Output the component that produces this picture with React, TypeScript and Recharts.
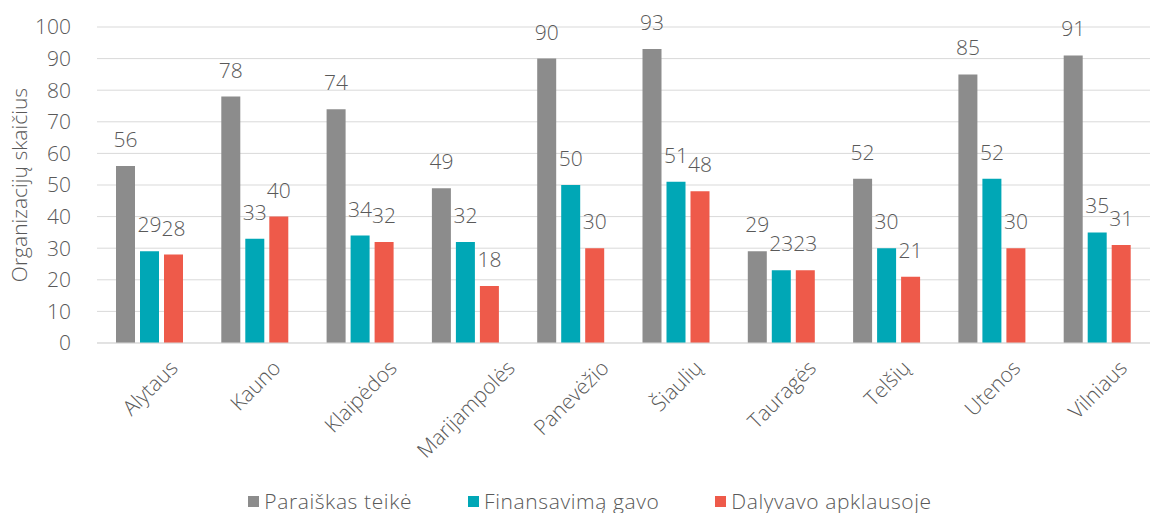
import React from 'react';
import { BarChart, Bar, XAxis, YAxis, CartesianGrid, Legend, LabelList } from 'recharts';

const regions = ['Alytaus', 'Kauno', 'Klaipėdos', 'Marijampolės', 'Panevėžio', 'Šiaulių', 'Tauragės', 'Telšių', 'Utenos', 'Vilniaus'];
const applied = [56, 78, 74, 49, 90, 93, 29, 52, 85, 91];
const funded = [29, 33, 34, 32, 50, 51, 23, 30, 52, 35];
const surveyed = [28, 40, 32, 18, 30, 48, 23, 21, 30, 31];
const yTicks = [0, 10, 20, 30, 40, 50, 60, 70, 80, 90, 100];

const SERIES = [
  { key: 'applied', name: 'Paraiškas teikė', color: '#8c8c8c' },
  { key: 'funded', name: 'Finansavimą gavo', color: '#00a7b6' },
  { key: 'surveyed', name: 'Dalyvavo apklausoje', color: '#ee5a4a' },
];

const data = regions.map((region, i) => ({
  region,
  applied: applied[i],
  funded: funded[i],
  surveyed: surveyed[i],
}));

const FONT = '"Open Sans", sans-serif';
const WEIGHT = 300;
const SIZE = 21;
const TEXT = '#595959';

let ctx: CanvasRenderingContext2D | null = null;
function textWidth(s: string, font: string) {
  if (!ctx) ctx = document.createElement('canvas').getContext('2d');
  if (!ctx) return s.length * 11;
  ctx.font = font;
  return ctx.measureText(s).width;
}

// Excel-style rotated labels: centred under the category, tops aligned
function RegionTick({ x, y, payload }: any) {
  const w = textWidth(payload.value, `${WEIGHT} ${SIZE}px "Open Sans"`);
  const ext = (w + SIZE * 0.75) * Math.SQRT1_2;
  const cy = y + 7 + ext / 2;
  return (
    <text
      x={x}
      y={cy}
      transform={`rotate(-45 ${x} ${cy})`}
      textAnchor="middle"
      dominantBaseline="central"
      fill={TEXT}
      fontSize={SIZE}
      fontWeight={WEIGHT}
      fontFamily={FONT}
    >
      {payload.value}
    </text>
  );
}

function LegendBox() {
  return (
    <div style={{ display: 'flex', justifyContent: 'center', gap: 56, fontFamily: FONT, fontWeight: WEIGHT, fontSize: SIZE, color: TEXT, letterSpacing: 0.6, paddingLeft: 30, lineHeight: '28px' }}>
      {SERIES.map((s) => (
        <div key={s.key} style={{ display: 'flex', alignItems: 'center', gap: 5 }}>
          <span style={{ width: 11, height: 11, background: s.color, display: 'inline-block' }} />
          <span>{s.name}</span>
        </div>
      ))}
    </div>
  );
}

export default function App() {
  return (
    <div style={{ position: 'absolute', left: 0, top: 0, background: '#fff' }}>
      <BarChart
        width={1161}
        height={513}
        data={data}
        margin={{ top: 27, right: 11, left: 0, bottom: 0 }}
        barGap={5}
        barCategoryGap="18%"
      >
        <CartesianGrid vertical={false} stroke="#d9d9d9" strokeWidth={1} />
        <XAxis
          dataKey="region"
          interval={0}
          height={142}
          tickLine={false}
          axisLine={{ stroke: '#d9d9d9' }}
          tick={<RegionTick />}
        />
        <YAxis
          domain={[0, 100]}
          ticks={yTicks}
          width={97}
          axisLine={false}
          tickLine={false}
          tickMargin={20}
          tick={{ fill: TEXT, fontSize: SIZE, fontWeight: WEIGHT, fontFamily: FONT }}
          label={{
            value: 'Organizacijų skaičius',
            angle: -90,
            position: 'insideLeft',
            offset: 20,
            style: { textAnchor: 'middle', fill: TEXT, fontSize: SIZE, fontWeight: WEIGHT, fontFamily: FONT },
          }}
        />
        <Legend verticalAlign="bottom" content={<LegendBox />} wrapperStyle={{ bottom: -2 }} />
        {SERIES.map((s) => (
          <Bar key={s.key} dataKey={s.key} name={s.name} fill={s.color} barSize={19} isAnimationActive={false}>
            <LabelList dataKey={s.key} position="top" offset={19} fill={TEXT} fontSize={SIZE} fontWeight={WEIGHT} fontFamily={FONT} />
          </Bar>
        ))}
      </BarChart>
    </div>
  );
}
